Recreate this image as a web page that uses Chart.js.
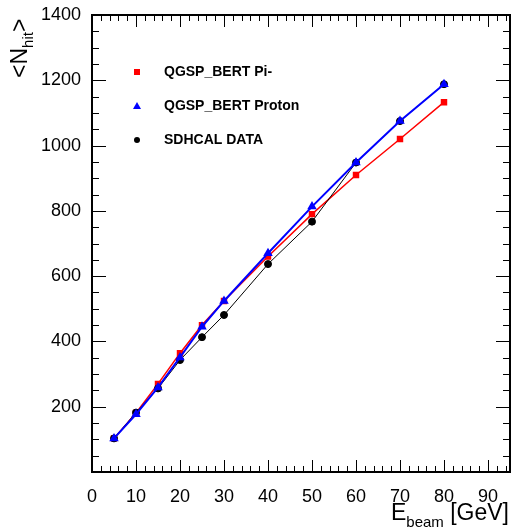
<!DOCTYPE html>
<html>
<head>
<meta charset="utf-8">
<script src="https://cdn.jsdelivr.net/npm/chart.js@4/dist/chart.umd.min.js"></script>
<style>
  html, body { margin: 0; padding: 0; background: #fff; }
  #nhitChart { display: block; }
</style>
</head>
<body>
<canvas id="nhitChart" width="511" height="529"></canvas>
<script>
// beam energies (GeV) and mean number of hits
const energies = [5, 10, 15, 20, 25, 30, 40, 50, 60, 70, 80];
const piMinusHits = [103, 181, 270, 364, 450, 524, 660, 790, 910, 1020, 1133];
const protonHits = [103, 177, 259, 351, 445, 524, 670, 813, 948, 1075, 1188];
const dataHits = [103, 182, 256, 343, 413, 481, 637, 767, 948, 1075, 1188];
const seriesNames = ["QGSP_BERT Pi-", "QGSP_BERT Proton", "SDHCAL DATA"];

const FONT = "'Liberation Sans', Arial, sans-serif";

function toPoints(values) {
    return energies.map((e, i) => ({ x: e, y: values[i] }));
}

// ROOT style frame, ticks on all four sides, legend box and axis titles
const rootFrame = {
    id: "rootFrame",
    beforeDatasetsDraw(chart) {
        const ctx = chart.ctx;
        const area = chart.chartArea;
        const xs = chart.scales.x;
        const ys = chart.scales.y;
        ctx.save();
        ctx.strokeStyle = "#000";
        ctx.lineWidth = 1;
        ctx.beginPath();
        for (let v = 0; v <= 95; v += 2) {
            const px = Math.round(xs.getPixelForValue(v)) + 0.5;
            const len = v % 10 == 0 ? 12 : 6;
            ctx.moveTo(px, area.bottom);
            ctx.lineTo(px, area.bottom - len);
            ctx.moveTo(px, area.top);
            ctx.lineTo(px, area.top + len);
        }
        for (let v = 0; v <= 1400; v += 50) {
            const py = Math.round(ys.getPixelForValue(v)) + 0.5;
            const len = v % 200 == 0 ? 14 : 7;
            ctx.moveTo(area.left, py);
            ctx.lineTo(area.left + len, py);
            ctx.moveTo(area.right, py);
            ctx.lineTo(area.right - len, py);
        }
        ctx.stroke();
        ctx.lineWidth = 2;
        ctx.strokeRect(area.left, area.top, area.right - area.left, area.bottom - area.top);
        ctx.restore();
    },
    afterDraw(chart) {
        const ctx = chart.ctx;
        ctx.save();

        // legend
        const rowsY = [72, 106, 140];
        chart.data.datasets.forEach((ds, i) => {
            const y = rowsY[i];
            ctx.fillStyle = ds.borderColor;
            if (ds.pointStyle == "rect") {
                ctx.fillRect(134, y - 3, 6, 6);
            } else if (ds.pointStyle == "triangle") {
                ctx.beginPath();
                ctx.moveTo(137, y - 4);
                ctx.lineTo(141, y + 3);
                ctx.lineTo(133, y + 3);
                ctx.closePath();
                ctx.fill();
            } else {
                ctx.beginPath();
                ctx.arc(137, y, 3, 0, Math.PI * 2);
                ctx.fill();
            }
            ctx.fillStyle = "#000";
            ctx.font = "bold 14px " + FONT;
            ctx.textBaseline = "middle";
            ctx.textAlign = "left";
            ctx.fillText(seriesNames[i], 164, y);
        });

        // x title: E_beam [GeV], right aligned
        ctx.textBaseline = "alphabetic";
        ctx.font = "23px " + FONT;
        const wE = ctx.measureText("E").width;
        const wG = ctx.measureText(" [GeV]").width;
        ctx.font = "15px " + FONT;
        const wB = ctx.measureText("beam").width;
        let xPos = 509 - wE - wB - wG;
        ctx.font = "23px " + FONT;
        ctx.fillText("E", xPos, 520);
        ctx.font = "15px " + FONT;
        ctx.fillText("beam", xPos + wE, 527);
        ctx.font = "23px " + FONT;
        ctx.fillText(" [GeV]", xPos + wE + wB, 520);

        // y title: <N_hit>, rotated
        ctx.translate(27, 78);
        ctx.rotate(-Math.PI / 2);
        ctx.font = "23px " + FONT;
        ctx.fillText("<N", 0, 0);
        let off = ctx.measureText("<N").width;
        ctx.font = "15px " + FONT;
        ctx.fillText("hit", off, 6);
        off += ctx.measureText("hit").width;
        ctx.font = "23px " + FONT;
        ctx.fillText(">", off, 0);

        ctx.restore();
    }
};

const ctx = document.getElementById("nhitChart").getContext("2d");
const myChart = new Chart(ctx, {
    type: "line",
    data: {
        datasets: [
            {
                label: seriesNames[0],
                data: toPoints(piMinusHits),
                borderColor: "#ff0000",
                backgroundColor: "#ff0000",
                borderWidth: 1.5,
                pointStyle: "rect",
                pointRadius: 3.5,
                order: 2,
            },
            {
                label: seriesNames[1],
                data: toPoints(protonHits),
                borderColor: "#0000ff",
                backgroundColor: "#0000ff",
                borderWidth: 2,
                pointStyle: "triangle",
                pointRadius: 3.5,
                order: 0,
            },
            {
                label: seriesNames[2],
                data: toPoints(dataHits),
                borderColor: "#000000",
                backgroundColor: "#000000",
                borderWidth: 1,
                pointStyle: "circle",
                pointRadius: 3.5,
                order: 1,
            },
        ],
    },
    options: {
        responsive: false,
        animation: false,
        layout: { autoPadding: false, padding: { top: 15, right: 1, left: 0, bottom: 0 } },
        elements: { line: { tension: 0, fill: false } },
        plugins: {
            legend: { display: false },
            tooltip: { enabled: false },
        },
        scales: {
            x: {
                type: "linear",
                min: 0,
                max: 95,
                grid: { display: false },
                border: { display: false },
                ticks: {
                    stepSize: 10,
                    includeBounds: false,
                    autoSkip: false,
                    maxRotation: 0,
                    padding: 6,
                    color: "#000",
                    font: { family: FONT, size: 18 },
                },
                afterFit(scale) {
                    scale.height = 57;
                    scale.paddingLeft = 0;
                    scale.paddingRight = 0;
                },
            },
            y: {
                min: 0,
                max: 1400,
                grid: { display: false },
                border: { display: false },
                ticks: {
                    stepSize: 200,
                    autoSkip: false,
                    padding: 3,
                    color: "#000",
                    font: { family: FONT, size: 18 },
                    callback: (v) => (v == 0 ? "" : v),
                },
                afterFit(scale) {
                    scale.width = 92;
                    scale.paddingTop = 0;
                    scale.paddingBottom = 0;
                },
            },
        },
    },
    plugins: [rootFrame],
});
</script>
</body>
</html>
